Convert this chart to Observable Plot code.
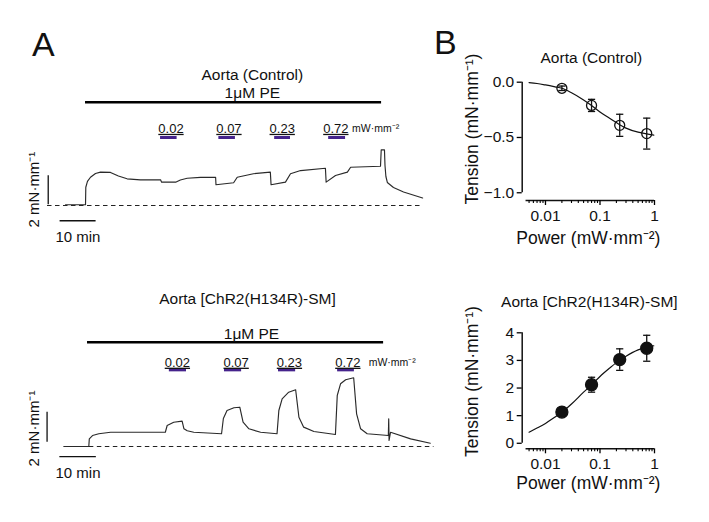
<!DOCTYPE html>
<html>
<head>
<meta charset="utf-8">
<script src="https://cdn.jsdelivr.net/npm/d3@7"></script>
<script src="https://cdn.jsdelivr.net/npm/@observablehq/plot@0.6"></script>
<style>
  body { margin: 0; background: #fff; }
  #fig { position: relative; width: 709px; height: 522px; background: #fff; font-family: "Liberation Sans", Arial, sans-serif; }
  .panel { position: absolute; }
  .letter { position: absolute; font-size: 34px; line-height: 1; color: #111; }
</style>
</head>
<body>
<div id="fig">
  <div class="letter" style="left:32px; top:27px;">A</div>
  <div class="letter" style="left:434px; top:25px;">B</div>
  <div class="panel" id="pTL" style="left:0px; top:20px;"></div>
  <div class="panel" id="pBL" style="left:0px; top:270px;"></div>
  <div class="panel" id="pTR" style="left:440px; top:20px;"></div>
  <div class="panel" id="pBR" style="left:440px; top:280px;"></div>
</div>
<script>
// ---------- DATA ----------
// Panel A traces: [time (min), tension (mN/mm)]
const ctrlTrace = [
  [0, 0.05], [5.56, 0.05], [5.64, 1.26], [6.1, 1.66], [6.94, 1.95], [8.33, 2.21], [9.72, 2.30],
  [12.5, 2.28], [14.7, 2.03], [17.1, 1.84], [20.8, 1.77], [26.4, 1.77], [26.7, 1.61], [30.6, 1.61],
  [31.9, 1.76], [33.8, 1.88], [37.5, 1.94], [41.7, 1.95], [41.8, 1.43], [46.7, 1.57], [47.7, 1.95],
  [52.2, 2.19], [56.9, 2.30], [57.1, 1.43], [61.1, 1.61], [62.5, 2.19], [65.3, 2.41], [72.2, 2.57],
  [72.4, 1.61], [75.0, 2.07], [78.3, 2.30], [79.2, 2.64], [87.5, 2.71], [87.7, 3.84], [88.6, 3.84],
  [88.75, 2.76], [89.0, 2.0], [89.4, 1.59], [91.1, 1.24], [93.9, 0.93], [99.2, 0.52]
];
const chrTrace = [
  [0.08, 0], [6.93, 0], [7.07, 0.51], [7.95, 0.73], [9.67, 0.85], [12.9, 0.95], [27.9, 0.95],
  [28.4, 1.40], [30.2, 1.62], [32.5, 1.69], [33.0, 1.18], [33.9, 1.05], [35.7, 0.95], [43.3, 0.85],
  [43.8, 1.87], [44.8, 2.40], [46.7, 2.58], [48.3, 2.62], [49.2, 1.62], [50.8, 1.18], [54.0, 0.95],
  [58.5, 0.85], [59.0, 2.40], [59.9, 3.18], [61.7, 3.62], [63.6, 3.78], [64.5, 1.95], [65.8, 1.29],
  [68.6, 1.00], [74.5, 0.80], [75.0, 3.40], [75.9, 4.18], [77.3, 4.45], [79.5, 4.58], [80.3, 2.18],
  [81.4, 1.18], [83.2, 0.85], [89.0, 0.73], [89.1, 1.85], [89.2, 0.40], [89.6, 0.95], [95.1, 0.51],
  [100.5, 0.22]
];
const powerLabels = ["0.02", "0.07", "0.23", "0.72"];
const ctrlLightStart = [26.4, 42.6, 58.1, 73.1];
const ctrlLightEnd   = [31.0, 47.2, 62.5, 77.8];
const ctrlLabelTime  = [29.3, 45.4, 60.2, 75.1];
const chrLightStart  = [29.0, 44.1, 58.9, 75.1];
const chrLightEnd    = [33.7, 48.8, 63.6, 79.7];
const chrLabelTime   = [31.2, 47.3, 61.9, 77.9];
const ctrlPE = [5.56, 87.8];
const chrPE  = [6.58, 87.7];

// Panel B: dose-response
const powers = [0.02, 0.07, 0.23, 0.72];
const ctrlMean = [-0.055, -0.21, -0.39, -0.465];
const ctrlErr  = [0.02, 0.055, 0.10, 0.14];
const chrMean  = [1.13, 2.12, 3.03, 3.44];
const chrErr   = [0.06, 0.27, 0.39, 0.47];
const fitPower   = [0.005, 0.007, 0.01, 0.015, 0.02, 0.03, 0.05, 0.07, 0.1, 0.15, 0.2, 0.3, 0.5, 0.8, 0.97];
const ctrlFit    = [-0.004, -0.012, -0.025, -0.042, -0.055, -0.095, -0.16, -0.21, -0.27, -0.325, -0.365, -0.415, -0.452, -0.472, -0.478];
const chrFit     = [0.40, 0.55, 0.72, 0.95, 1.12, 1.42, 1.85, 2.12, 2.42, 2.72, 2.92, 3.15, 3.38, 3.50, 3.53];
const xMajorTicks = [0.01, 0.1, 1];
const xMinorTicks = [0.005, 0.006, 0.007, 0.008, 0.009, 0.02, 0.03, 0.04, 0.05, 0.06, 0.07, 0.08, 0.09,
                     0.2, 0.3, 0.4, 0.5, 0.6, 0.7, 0.8, 0.9];

// ---------- DRAWING ----------
const FONT = "Liberation Sans, Arial, sans-serif";
const PURPLE = "#45238c";
const UNIT = "mW\u00B7mm\u207B\u00B2";

function tracePanel(cfg) {
  const trace = cfg.trace.map(([t, v]) => ({t, v}));
  const lights = powerLabels.map((lab, i) => ({lab, a: cfg.lightStart[i], b: cfg.lightEnd[i], m: cfg.labelTime[i]}));
  const plot = Plot.plot({
    width: 440, height: 240,
    marginLeft: 0, marginRight: 0, marginTop: 0, marginBottom: 0,
    style: {fontFamily: FONT, background: "transparent", overflow: "visible"},
    x: {axis: null, domain: cfg.xDomain},
    y: {axis: null, domain: cfg.yDomain},
    marks: [
      Plot.ruleY([0], {x1: cfg.baseX[0], x2: cfg.baseX[1], stroke: "#222", strokeWidth: 1.2, strokeDasharray: "4.5,3.5"}),
      Plot.line(trace, {x: "t", y: "v", stroke: "#2a2a2a", strokeWidth: 1.15}),
      Plot.ruleY([cfg.peY], {x1: cfg.pe[0], x2: cfg.pe[1], stroke: "#000", strokeWidth: 2.6}),
      Plot.text([cfg.title], {x: cfg.titlePos[0], y: cfg.titlePos[1], fontSize: 15.5, fill: "#111"}),
      Plot.text(["1\u03BCM PE"], {x: cfg.pePos[0], y: cfg.pePos[1], fontSize: 15.5, fill: "#111"}),
      Plot.ruleY(lights, {x1: "a", x2: "b", y: cfg.lightY, stroke: PURPLE, strokeWidth: 3}),
      Plot.text(lights, {x: "m", y: cfg.labelY, text: "lab", fontSize: 13, fill: "#111"}),
      Plot.text([UNIT], {x: cfg.unitX, y: cfg.labelY, textAnchor: "start", fontSize: 10.5, fill: "#111"}),
      Plot.ruleX([cfg.sbV[0]], {y1: cfg.sbV[1], y2: cfg.sbV[2], stroke: "#111", strokeWidth: 1.3}),
      Plot.ruleY([cfg.sbH[2]], {x1: cfg.sbH[0], x2: cfg.sbH[1], stroke: "#111", strokeWidth: 1.3}),
      Plot.text(["10 min"], {x: cfg.minPos[0], y: cfg.minPos[1], textAnchor: "start", fontSize: 15, fill: "#111"}),
      Plot.text(["2 mN\u00B7mm\u207B\u00B9"], {x: cfg.mnPos[0], y: cfg.mnPos[1], rotate: -90, fontSize: 15, fill: "#111"})
    ]
  });
  d3.select(plot).selectAll("text").filter(function () { return powerLabels.includes(this.textContent); })
    .style("text-decoration", "underline");
  return plot;
}

function dosePanel(cfg) {
  const pts = powers.map((p, i) => ({p, m: cfg.mean[i], lo: cfg.mean[i] - cfg.err[i], hi: cfg.mean[i] + cfg.err[i]}));
  const fit = fitPower.map((p, i) => ({p, v: cfg.fit[i]}));
  const cap = {draw(ctx, size) { const w = Math.sqrt(size / Math.PI); ctx.moveTo(-w, 0); ctx.lineTo(w, 0); }};
  const xMin = 0.00374;
  return Plot.plot({
    width: 269, height: 240,
    marginLeft: 81.7, marginRight: 55, marginTop: cfg.mt, marginBottom: cfg.mb,
    style: {fontFamily: FONT, background: "transparent", overflow: "visible", fontSize: "15px"},
    x: {type: "log", domain: [xMin, 1]},
    y: {domain: cfg.yDomain},
    marks: [
      Plot.ruleX([xMin], {y1: cfg.yTicks[0], y2: cfg.yTicks[cfg.yTicks.length - 1], stroke: "#111", strokeWidth: 1.5}),
      Plot.ruleY([cfg.yDomain[0]], {x1: 0.0044, x2: 1, stroke: "#111", strokeWidth: 1.5}),
      Plot.axisY({ticks: cfg.yTicks, tickSize: 5, tickPadding: 3, tickFormat: cfg.yFmt, label: null, fontSize: 15.5, strokeWidth: 1.3, fill: "#111"}),
      Plot.axisX({ticks: xMajorTicks, tickSize: 5, tickPadding: 4, tickFormat: d => String(d), label: null, fontSize: 15.5, strokeWidth: 1.3, fill: "#111"}),
      Plot.axisX({ticks: xMinorTicks, tickSize: 3, tickFormat: () => "", label: null, strokeWidth: 1.1}),
      Plot.line(fit, {x: "p", y: "v", stroke: "#111", strokeWidth: 1.2, curve: "monotone-x"}),
      Plot.ruleX(pts, {x: "p", y1: "lo", y2: "hi", stroke: "#111", strokeWidth: 1.3}),
      Plot.dot(pts, {x: "p", y: "hi", symbol: cap, r: 3.6, stroke: "#111", strokeWidth: 1.3, fill: "none"}),
      Plot.dot(pts, {x: "p", y: "lo", symbol: cap, r: 3.6, stroke: "#111", strokeWidth: 1.3, fill: "none"}),
      Plot.dot(pts, {x: "p", y: "m", r: cfg.r, fill: cfg.filled ? "#111" : "none", stroke: "#111", strokeWidth: 1.3}),
      Plot.text([cfg.title], {frameAnchor: "top", textAnchor: "middle", lineAnchor: "middle", dx: cfg.titleD[0], dy: cfg.titleD[1], fontSize: 15.5, fill: "#111"}),
      Plot.text(["Power (" + UNIT + ")"], {frameAnchor: "bottom", textAnchor: "middle", lineAnchor: "middle", dx: 0, dy: cfg.powerDy, fontSize: 17.5, fill: "#111"}),
      Plot.text(["Tension (mN\u00B7mm\u207B\u00B9)"], {frameAnchor: "left", textAnchor: "middle", lineAnchor: "middle", dx: -50, dy: cfg.tensionDy, rotate: -90, fontSize: 17.5, fill: "#111"})
    ]
  });
}

const fmt1 = d => d === 0 ? "0.0" : (d < 0 ? "\u2212" : "") + Math.abs(d).toFixed(1);

document.getElementById("pTL").appendChild(tracePanel({
  trace: ctrlTrace, lightStart: ctrlLightStart, lightEnd: ctrlLightEnd, labelTime: ctrlLabelTime, pe: ctrlPE,
  xDomain: [-65 / 3.6, 375 / 3.6], yDomain: [-55 / 14.5, 185 / 14.5],
  baseX: [-5, 99.2], peY: 7.12, title: "Aorta (Control)", titlePos: [51.9, 9.0], pePos: [51.9, 7.78],
  lightY: 4.69, labelY: 5.3, unitX: 79.6,
  sbV: [-4.8, 0.05, 2.05], sbH: [-1.5, 8.5, -1.05], minPos: [-2.8, -2.2], mnPos: [-8.6, 1.1]
}));

document.getElementById("pBL").appendChild(tracePanel({
  trace: chrTrace, lightStart: chrLightStart, lightEnd: chrLightEnd, labelTime: chrLabelTime, pe: chrPE,
  xDomain: [-63 / 3.65, 377 / 3.65], yDomain: [-64 / 15, 176 / 15],
  baseX: [0.5, 101.5], peY: 6.95, title: "Aorta [ChR2(H134R)-SM]", titlePos: [50.4, 9.8], pePos: [51.5, 7.53],
  lightY: 5.11, labelY: 5.6, unitX: 83.6,
  sbV: [-4.5, 0.29, 2.29], sbH: [-1.0, 9.0, -0.67], minPos: [-2.2, -1.8], mnPos: [-7.95, 1.2]
}));

document.getElementById("pTR").appendChild(dosePanel({
  mean: ctrlMean, err: ctrlErr, fit: ctrlFit, yDomain: [-1.07, 0], yTicks: [-1, -0.5, 0], yFmt: fmt1,
  mt: 61.7, mb: 60, r: 5, filled: false, title: "Aorta (Control)", titleD: [3, -24.2], powerDy: 38, tensionDy: -12.3
}));

document.getElementById("pBR").appendChild(dosePanel({
  mean: chrMean, err: chrErr, fit: chrFit, yDomain: [-0.2, 4], yTicks: [0, 1, 2, 3, 4], yFmt: d => String(d),
  mt: 52.3, mb: 71.7, r: 6, filled: true, title: "Aorta [ChR2(H134R)-SM]", titleD: [1, -30.3], powerDy: 34.7, tensionDy: -9.3
}));
</script>
</body>
</html>
